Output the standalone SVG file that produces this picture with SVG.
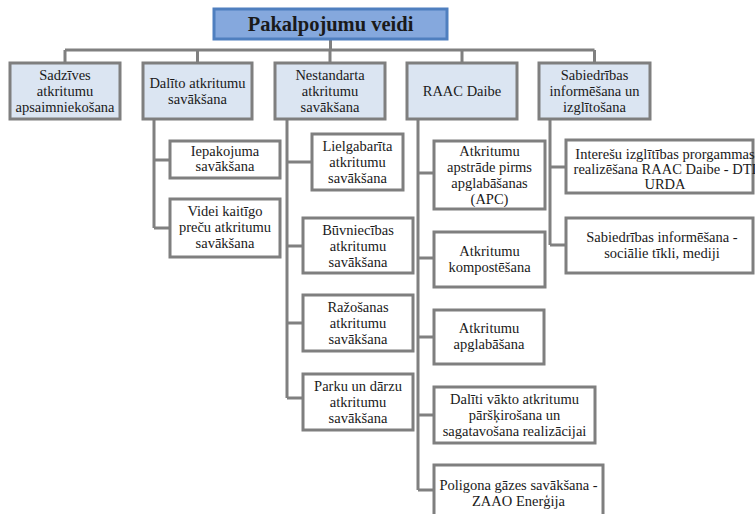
<svg xmlns="http://www.w3.org/2000/svg" width="755" height="514" viewBox="0 0 755 514">
<style>
text{font-family:'Liberation Serif','Times New Roman',serif;font-size:14.5px;fill:#1a1a1a;text-anchor:middle}
.l1{fill:#dbe5f2;stroke:#7f7f7f;stroke-width:3}
.l2{fill:#ffffff;stroke:#7f7f7f;stroke-width:3}
.top{fill:#85a8dd;stroke:#4f7fbf;stroke-width:3}
.t{font-size:20.5px;font-weight:bold}
#connectors path{fill:none;stroke:#808080;stroke-width:3}
</style>
<rect width="755" height="514" fill="#ffffff"/>
<g id="connectors">
<path d="M330.5 39V50M65 50H594.5M65 50V63M197.5 50V63M330 50V63M462 50V63M594.5 50V63"/>
<path d="M154 119V228M154 160H170M154 228H170"/>
<path d="M287 119V398M287 162H312M287 246H303M287 323H303M287 398H303"/>
<path d="M418 119V490M418 173H434M418 258H434M418 337H434M418 415H434M418 490H434"/>
<path d="M550 119V245M550 167H566M550 245H566"/>
</g>
<g id="n-root"><rect class="top" x="214" y="9" width="233" height="30"/><text class="t" x="330.5" y="31">Pakalpojumu veidi</text></g>
<g id="n-sadzives"><rect class="l1" x="10" y="63" width="110" height="56"/><text x="65" y="80">Sadzīves</text><text x="65" y="96">atkritumu</text><text x="65" y="112">apsaimniekošana</text></g>
<g id="n-dalito"><rect class="l1" x="143" y="63" width="109" height="56"/><text x="197.5" y="88">Dalīto atkritumu</text><text x="197.5" y="104">savākšana</text></g>
<g id="n-nestandarta"><rect class="l1" x="275" y="63" width="110" height="56"/><text x="330" y="80">Nestandarta</text><text x="330" y="96">atkritumu</text><text x="330" y="112">savākšana</text></g>
<g id="n-raac"><rect class="l1" x="407" y="63" width="110" height="56"/><text x="462" y="96">RAAC Daibe</text></g>
<g id="n-sabiedribas"><rect class="l1" x="539" y="63" width="111" height="56"/><text x="594.5" y="80">Sabiedrības</text><text x="594.5" y="96">informēšana un</text><text x="594.5" y="112">izglītošana</text></g>
<g id="n-iepakojuma"><rect class="l2" x="170" y="141" width="110" height="37"/><text x="225" y="156">Iepakojuma</text><text x="225" y="171">savākšana</text></g>
<g id="n-videi"><rect class="l2" x="170" y="199" width="110" height="58"/><text x="225" y="216">Videi kaitīgo</text><text x="225" y="232">preču atkritumu</text><text x="225" y="248">savākšana</text></g>
<g id="n-lielgabarita"><rect class="l2" x="312" y="134" width="91" height="56"/><text x="357.5" y="151">Lielgabarīta</text><text x="357.5" y="167">atkritumu</text><text x="357.5" y="183">savākšana</text></g>
<g id="n-buvniecibas"><rect class="l2" x="303" y="218" width="110" height="55"/><text x="358" y="235">Būvniecības</text><text x="358" y="251">atkritumu</text><text x="358" y="267">savākšana</text></g>
<g id="n-razosanas"><rect class="l2" x="303" y="295" width="110" height="56"/><text x="358" y="312">Ražošanas</text><text x="358" y="328">atkritumu</text><text x="358" y="344">savākšana</text></g>
<g id="n-parku"><rect class="l2" x="303" y="374" width="110" height="56"/><text x="358" y="391">Parku un dārzu</text><text x="358" y="407">atkritumu</text><text x="358" y="423">savākšana</text></g>
<g id="n-apc"><rect class="l2" x="434" y="141" width="111" height="68"/><text x="489.5" y="156">Atkritumu</text><text x="489.5" y="172">apstrāde pirms</text><text x="489.5" y="188">apglabāšanas</text><text x="489.5" y="204">(APC)</text></g>
<g id="n-kompostesana"><rect class="l2" x="434" y="232" width="111" height="55"/><text x="489.5" y="256">Atkritumu</text><text x="489.5" y="272">kompostēšana</text></g>
<g id="n-apglabasana"><rect class="l2" x="434" y="310" width="110" height="54"/><text x="489" y="333">Atkritumu</text><text x="489" y="349">apglabāšana</text></g>
<g id="n-daliti"><rect class="l2" x="434" y="387" width="161" height="56"/><text x="514.5" y="404">Dalīti vākto atkritumu</text><text x="514.5" y="420">pāršķirošana un</text><text x="514.5" y="436">sagatavošana realizācijai</text></g>
<g id="n-poligona"><rect class="l2" x="434" y="465" width="169" height="56"/><text x="518.5" y="490">Poligona gāzes savākšana -</text><text x="518.5" y="506">ZAAO Enerģija</text></g>
<g id="n-interesu"><rect class="l2" x="566" y="140" width="187" height="53"/><text x="665" y="159">Interešu izglītības prorgammas</text><text x="665" y="174">realizēšana RAAC Daibe - DTI</text><text x="665" y="189">URDA</text></g>
<g id="n-informesana"><rect class="l2" x="566" y="218" width="187" height="55"/><text x="662" y="242">Sabiedrības informēšana -</text><text x="662" y="258">sociālie tīkli, mediji</text></g>
</svg>
